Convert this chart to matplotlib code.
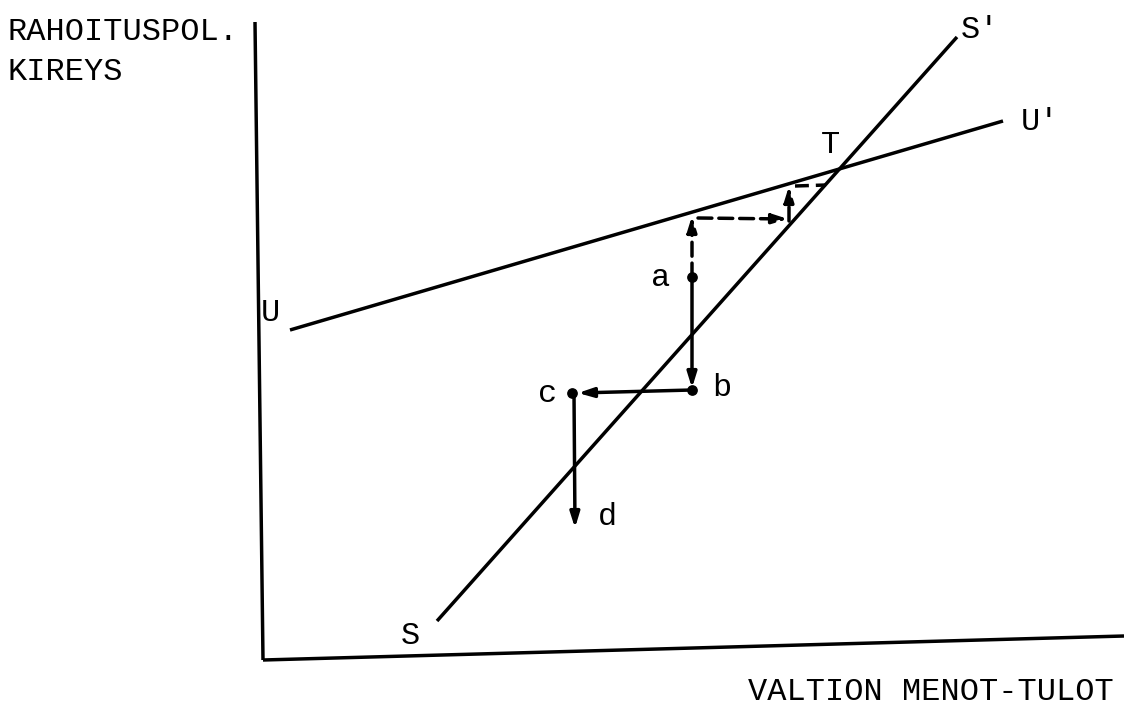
import matplotlib
matplotlib.use("Agg")
import matplotlib.pyplot as plt

# Diagram geometry (reference pixel coordinates, y grows downward)
axis_y = ([255, 263], [22, 660])
axis_x = ([263, 1124], [660, 636])
line_U = ([290, 1003], [330, 121])
line_S = ([437, 957], [621, 37])

# points a, b, c
pt_names = ["a", "b", "c"]
pt_x = [692, 692, 572]
pt_y = [277, 390, 393]

# solid arrows: (x0, y0, x1, y1)
solid_arrows = [
    (692, 277, 692, 388),
    (692, 390, 578, 393),
    (574, 393, 575, 528),
]
# dashed arrows
dashed_arrows = [
    (692, 277, 692, 216),
    (698, 218, 788, 219),
    (789, 221, 789, 186),
]
dashed_lines = [
    (795, 186, 826, 185),
]

labels = [
    ("a", 661, 278), ("b", 722, 388), ("c", 548, 394), ("d", 607, 517),
    ("U", 270, 313), ("U'", 1040, 122), ("S'", 980, 30), ("S", 410, 636),
    ("T", 831, 145),
]
ylabel_lines = ["RAHOITUSPOL.", "KIREYS"]
xlabel = "VALTION MENOT-TULOT"

FONT = "Liberation Mono"
FS = 23

fig = plt.figure(figsize=(11.24, 7.05), dpi=100)
ax = fig.add_axes([0, 0, 1, 1])
ax.set_xlim(0, 1124)
ax.set_ylim(705, 0)
ax.axis("off")

lw = 2.5
for xs, ys in (axis_y, axis_x, line_U, line_S):
    ax.plot(xs, ys, color="black", lw=lw, solid_capstyle="butt")

for x0, y0, x1, y1 in solid_arrows:
    ax.annotate("", xy=(x1, y1), xytext=(x0, y0),
                arrowprops=dict(arrowstyle="-|>,head_length=0.9,head_width=0.28",
                                color="black", lw=2.5, shrinkA=0, shrinkB=0))
for x0, y0, x1, y1 in dashed_arrows:
    ax.annotate("", xy=(x1, y1), xytext=(x0, y0),
                arrowprops=dict(arrowstyle="-|>,head_length=0.9,head_width=0.28",
                                color="black", lw=2.5, linestyle=(0, (4, 2)),
                                shrinkA=0, shrinkB=0))
for x0, y0, x1, y1 in dashed_lines:
    ax.plot([x0, x1], [y0, y1], color="black", lw=2.5, linestyle=(0, (4, 2)))

ax.scatter(pt_x, pt_y, s=45, color="black", zorder=5)

for t, x, y in labels:
    ax.text(x, y, t, fontsize=FS, family=FONT, ha="center", va="center")

ax.text(8, 32, ylabel_lines[0], fontsize=FS, family=FONT, ha="left", va="center")
ax.text(8, 72, ylabel_lines[1], fontsize=FS, family=FONT, ha="left", va="center")
ax.text(1114, 692, xlabel, fontsize=FS, family=FONT, ha="right", va="center")

fig.savefig("out.png", dpi=100, facecolor="white")
